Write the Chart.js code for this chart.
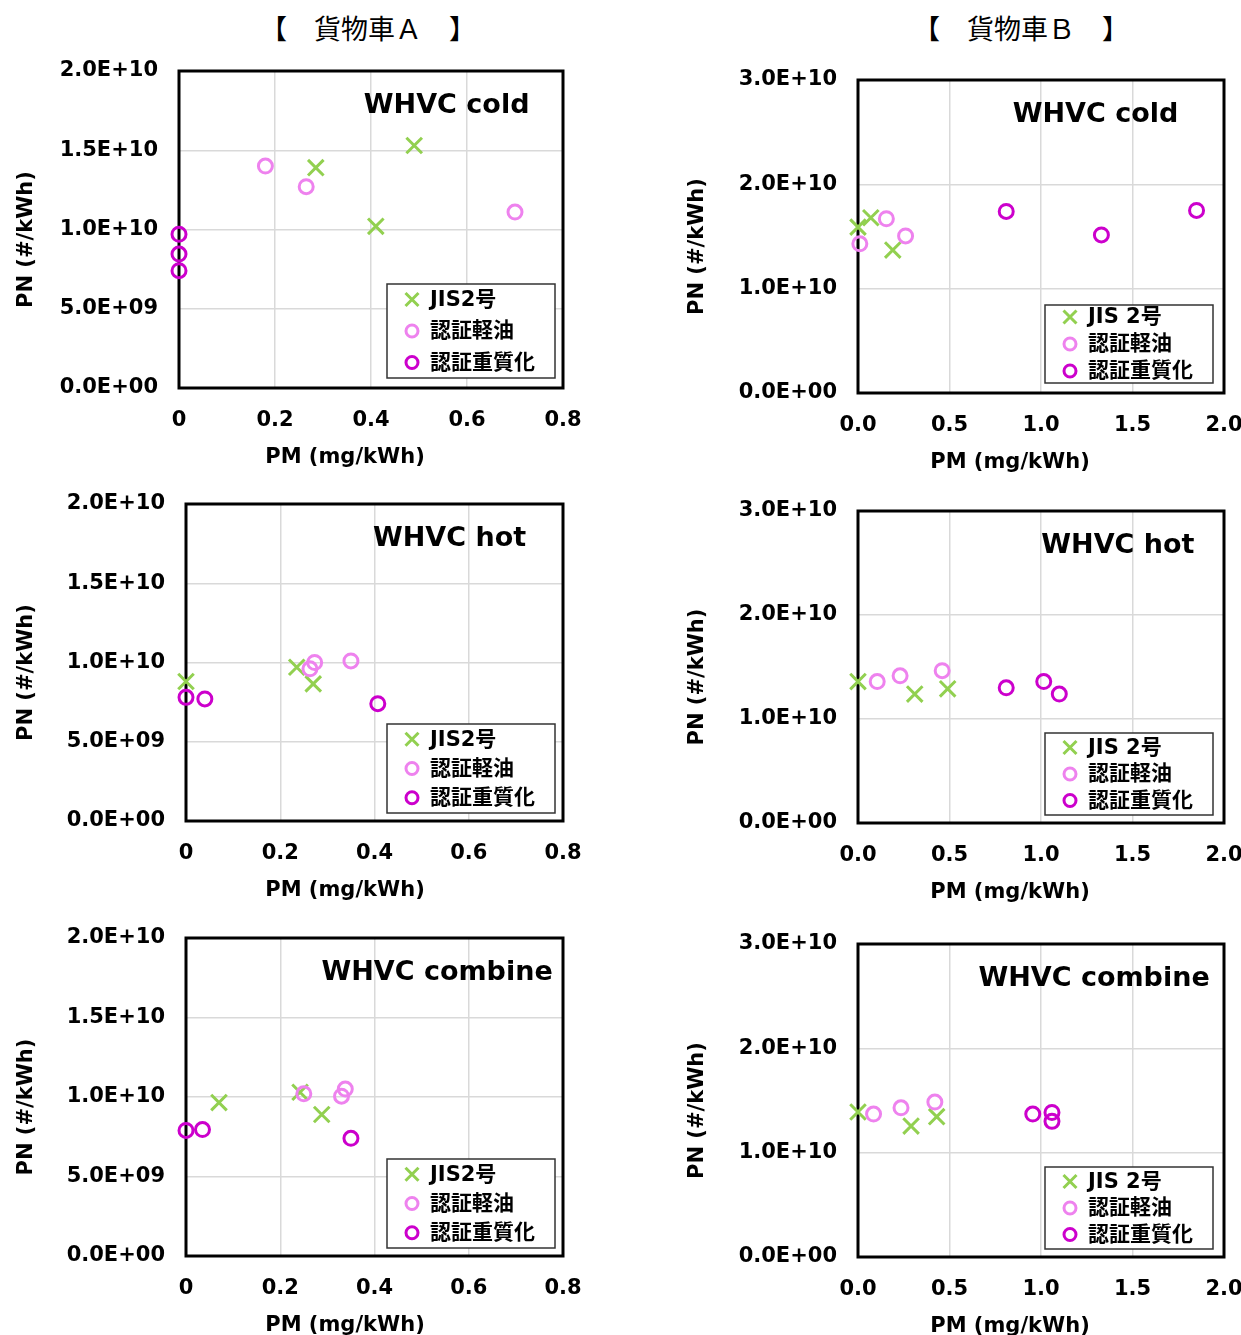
<!DOCTYPE html>
<html lang="ja">
<head>
<meta charset="UTF-8">
<title>貨物車 PM-PN</title>
<script src="https://cdn.jsdelivr.net/npm/chart.js"></script>
<style>
  body {
    margin: 0;
    width: 1241px;
    height: 1335px;
    position: relative;
    overflow: hidden;
    background: #fff;
  }
  .head {
    position: absolute;
    top: 14px;
    font-family: "Noto Sans CJK JP", sans-serif;
    font-size: 27px;
    line-height: 1;
    white-space: pre;
    transform: translateX(-50%);
  }
  .panel { position: absolute; }
</style>
</head>
<body>
<div class="head" style="left:368px">【　貨物車Ａ　】</div>
<div class="head" style="left:1021px">【　貨物車Ｂ　】</div>

<script>
// 貨物車A  [PM mg/kWh, PN #/kWh]
const A_COLD_JIS = [[0.285, 1.39e10], [0.49, 1.53e10], [0.41, 1.02e10]];
const A_COLD_OIL = [[0.18, 1.40e10], [0.265, 1.27e10], [0.70, 1.11e10]];
const A_COLD_HVY = [[0, 0.97e10], [0, 0.845e10], [0, 0.74e10]];

const A_HOT_JIS = [[0, 0.88e10], [0.235, 0.97e10], [0.27, 0.865e10]];
const A_HOT_OIL = [[0.263, 0.96e10], [0.273, 1.0e10], [0.35, 1.01e10]];
const A_HOT_HVY = [[0, 0.78e10], [0.04, 0.77e10], [0.407, 0.74e10]];

const A_COMB_JIS = [[0.07, 0.965e10], [0.242, 1.03e10], [0.288, 0.89e10]];
const A_COMB_OIL = [[0.25, 1.02e10], [0.33, 1.005e10], [0.338, 1.05e10]];
const A_COMB_HVY = [[0, 0.79e10], [0.035, 0.795e10], [0.35, 0.74e10]];

// 貨物車B
const B_COLD_JIS = [[0, 1.59e10], [0.07, 1.68e10], [0.19, 1.37e10]];
const B_COLD_OIL = [[0.155, 1.67e10], [0.26, 1.505e10], [0.01, 1.43e10]];
const B_COLD_HVY = [[0.81, 1.74e10], [1.33, 1.515e10], [1.85, 1.75e10]];

const B_HOT_JIS = [[0, 1.36e10], [0.31, 1.24e10], [0.49, 1.29e10]];
const B_HOT_OIL = [[0.105, 1.36e10], [0.23, 1.415e10], [0.46, 1.465e10]];
const B_HOT_HVY = [[0.81, 1.30e10], [1.015, 1.36e10], [1.10, 1.24e10]];

const B_COMB_JIS = [[0, 1.39e10], [0.29, 1.255e10], [0.43, 1.345e10]];
const B_COMB_OIL = [[0.085, 1.37e10], [0.235, 1.43e10], [0.42, 1.485e10]];
const B_COMB_HVY = [[0.955, 1.37e10], [1.06, 1.385e10], [1.06, 1.30e10]];

const PM_TICKS_A = ['0', '0.2', '0.4', '0.6', '0.8'];
const PM_TICKS_B = ['0.0', '0.5', '1.0', '1.5', '2.0'];
const PN_TICKS_A = ['0.0E+00', '5.0E+09', '1.0E+10', '1.5E+10', '2.0E+10'];
const PN_TICKS_B = ['0.0E+00', '1.0E+10', '2.0E+10', '3.0E+10'];

const SERIES_A = ['JIS2号', '認証軽油', '認証重質化'];
const SERIES_B = ['JIS 2号', '認証軽油', '認証重質化'];
const CYCLES = ['WHVC cold', 'WHVC hot', 'WHVC combine'];

const GREEN = '#92D050';
const VIOLET = '#EE82EE';
const MAGENTA = '#CC00CC';
const FONT = '"DejaVu Sans", "Noto Sans CJK JP", sans-serif';

const STYLES = [
  { pointStyle: 'crossRot', pointRadius: 11, color: GREEN, order: 2 },
  { pointStyle: 'circle', pointRadius: 7, color: VIOLET, order: 1 },
  { pointStyle: 'circle', pointRadius: 7, color: MAGENTA, order: 0 }
];

// box = canvas rect on the page, plot = frame rect on the page
const colA = { pm: PM_TICKS_A, pmMax: 0.8, pmStep: 0.2, pn: PN_TICKS_A, pnMax: 2e10, pnStep: 5e9,
               names: SERIES_A, xTitle: 345, yTitle: 32, legRight: 8 };
const colB = { pm: PM_TICKS_B, pmMax: 2.0, pmStep: 0.5, pn: PN_TICKS_B, pnMax: 3e10, pnStep: 1e10,
               names: SERIES_B, xTitle: 350, yTitle: 43, legRight: 11 };

const panels = [
  { col: colA, cycle: 0, box: [0, 45, 600, 480], plot: [179, 71, 563, 388],
    series: [A_COLD_JIS, A_COLD_OIL, A_COLD_HVY], titleAt: 0.697, legH: 94, legRow: 31.5, legBottom: 10 },
  { col: colA, cycle: 1, box: [0, 480, 600, 910], plot: [186, 504, 563, 821],
    series: [A_HOT_JIS, A_HOT_OIL, A_HOT_HVY], titleAt: 0.699, legH: 89, legRow: 29.2, legBottom: 8 },
  { col: colA, cycle: 2, box: [0, 910, 600, 1335], plot: [186, 938, 563, 1256],
    series: [A_COMB_JIS, A_COMB_OIL, A_COMB_HVY], titleAt: 0.666, legH: 89, legRow: 29.2, legBottom: 8 },
  { col: colB, cycle: 0, box: [660, 45, 1241, 480], plot: [858, 80, 1224, 393],
    series: [B_COLD_JIS, B_COLD_OIL, B_COLD_HVY], titleAt: 0.649, legH: 78, legRow: 27, legBottom: 10 },
  { col: colB, cycle: 1, box: [660, 480, 1241, 910], plot: [858, 511, 1224, 823],
    series: [B_HOT_JIS, B_HOT_OIL, B_HOT_HVY], titleAt: 0.71, legH: 82, legRow: 26.5, legBottom: 8 },
  { col: colB, cycle: 2, box: [660, 910, 1241, 1335], plot: [858, 944, 1224, 1257],
    series: [B_COMB_JIS, B_COMB_OIL, B_COMB_HVY], titleAt: 0.645, legH: 82, legRow: 26.5, legBottom: 8 }
];

// frame, cycle name, axis titles and the boxed legend inside the plot
const panelDecor = {
  id: 'panelDecor',
  beforeDatasetsDraw(chart) {
    const { ctx, chartArea: a } = chart;
    ctx.save();
    ctx.strokeStyle = '#000';
    ctx.lineWidth = 3;
    ctx.strokeRect(a.left, a.top, a.right - a.left, a.bottom - a.top);
    ctx.restore();
  },
  afterDraw(chart, args, o) {
    const { ctx, chartArea: a } = chart;
    ctx.save();
    ctx.fillStyle = '#000';
    ctx.textAlign = 'center';
    ctx.textBaseline = 'alphabetic';

    ctx.font = 'bold 27px ' + FONT;
    ctx.fillText(o.title, a.left + o.titleAt * (a.right - a.left), a.top + 42);

    ctx.font = 'bold 21px ' + FONT;
    ctx.fillText('PM (mg/kWh)', o.xTitle, a.bottom + 75);
    ctx.save();
    ctx.translate(o.yTitle, (a.top + a.bottom) / 2 + 10);
    ctx.rotate(-Math.PI / 2);
    ctx.fillText('PN (#/kWh)', 0, 0);
    ctx.restore();

    const w = 168, h = o.legH;
    const lx = a.right - o.legRight - w;
    const ly = a.bottom - o.legBottom - h;
    ctx.fillStyle = '#fff';
    ctx.fillRect(lx, ly, w, h);
    ctx.strokeStyle = '#333';
    ctx.lineWidth = 1.5;
    ctx.strokeRect(lx, ly, w, h);

    ctx.textAlign = 'left';
    ctx.textBaseline = 'middle';
    ctx.font = 'bold 21px ' + FONT;
    chart.data.datasets.forEach((ds, i) => {
      const cy = ly + (h - 2 * o.legRow) / 2 + i * o.legRow;
      const cx = lx + 25;
      ctx.strokeStyle = ds.pointBorderColor;
      ctx.lineWidth = 3;
      ctx.beginPath();
      if (ds.pointStyle === 'crossRot') {
        ctx.moveTo(cx - 6.5, cy - 6.5); ctx.lineTo(cx + 6.5, cy + 6.5);
        ctx.moveTo(cx + 6.5, cy - 6.5); ctx.lineTo(cx - 6.5, cy + 6.5);
      } else {
        ctx.arc(cx, cy, 6, 0, Math.PI * 2);
      }
      ctx.stroke();
      ctx.fillStyle = '#000';
      ctx.fillText(ds.label, lx + 43, cy + 1);
    });
    ctx.restore();
  }
};

function makePanel(p) {
  const c = p.col;
  const [bl, bt, br, bb] = p.box;
  const [pl, pt, pr, pb] = p.plot;

  const wrap = document.createElement('div');
  wrap.className = 'panel';
  wrap.style.left = bl + 'px';
  wrap.style.top = bt + 'px';
  wrap.style.width = (br - bl) + 'px';
  wrap.style.height = (bb - bt) + 'px';
  const canvas = document.createElement('canvas');
  wrap.appendChild(canvas);
  document.body.appendChild(wrap);

  const tickFont = { family: FONT, size: 21, weight: 'bold' };

  new Chart(canvas, {
    type: 'scatter',
    data: {
      datasets: p.series.map((s, i) => ({
        label: c.names[i],
        data: s.map(([x, y]) => ({ x, y })),
        pointStyle: STYLES[i].pointStyle,
        pointRadius: STYLES[i].pointRadius,
        pointBorderColor: STYLES[i].color,
        pointBackgroundColor: 'rgba(0,0,0,0)',
        pointBorderWidth: 3,
        borderColor: STYLES[i].color,
        order: STYLES[i].order,
        clip: false
      }))
    },
    options: {
      responsive: true,
      maintainAspectRatio: false,
      animation: false,
      events: [],
      layout: { padding: { top: pt - bt, right: br - pr, left: 0, bottom: 0 } },
      scales: {
        x: {
          type: 'linear',
          min: 0,
          max: c.pmMax,
          ticks: {
            stepSize: c.pmStep,
            autoSkip: false,
            maxRotation: 0,
            padding: 20,
            color: '#000',
            font: tickFont,
            callback: (v, i) => c.pm[i]
          },
          grid: { color: '#d9d9d9', lineWidth: 1.5, drawTicks: false },
          border: { display: false },
          afterFit: s => {
            s.height = bb - pb;
            s.paddingLeft = 0;
            s.paddingRight = 0;
          }
        },
        y: {
          type: 'linear',
          min: 0,
          max: c.pnMax,
          ticks: {
            stepSize: c.pnStep,
            autoSkip: false,
            padding: 21,
            color: '#000',
            font: tickFont,
            callback: (v, i) => c.pn[i]
          },
          grid: { color: '#d9d9d9', lineWidth: 1.5, drawTicks: false },
          border: { display: false },
          afterFit: s => {
            s.width = pl - bl;
            s.paddingTop = 0;
            s.paddingBottom = 0;
          }
        }
      },
      plugins: {
        legend: { display: false },
        tooltip: { enabled: false },
        panelDecor: {
          title: CYCLES[p.cycle],
          titleAt: p.titleAt,
          xTitle: c.xTitle,
          yTitle: c.yTitle,
          legH: p.legH,
          legRow: p.legRow,
          legRight: c.legRight,
          legBottom: p.legBottom
        }
      }
    },
    plugins: [panelDecor]
  });
}

panels.forEach(makePanel);
</script>
</body>
</html>
